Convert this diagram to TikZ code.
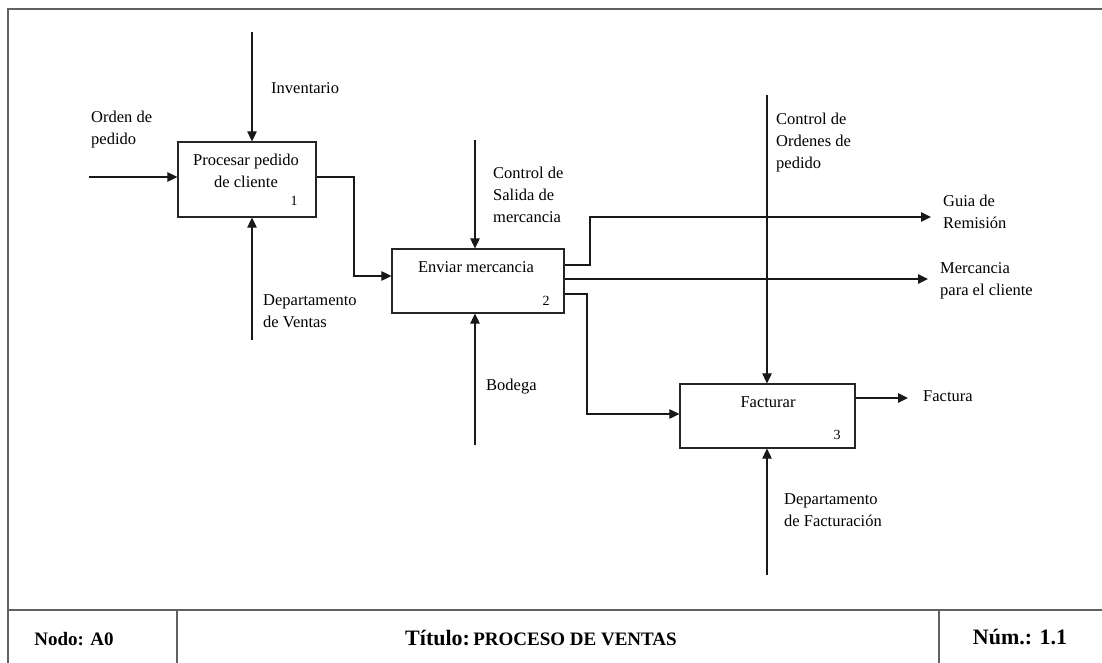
\documentclass[tikz,border=0pt]{standalone}
\usepackage{fontspec}
\setmainfont{Liberation Serif}
\usetikzlibrary{arrows.meta}
\begin{document}
\begin{tikzpicture}[x=1pt,y=-1pt,
  frame/.style={draw=black!62,line width=1.8pt},
  actbox/.style={draw=black!85,line width=1.2pt,rectangle,inner sep=0pt},
  arr/.style={draw=black!90,line width=1.1pt,-{Triangle[length=10pt,width=9.5pt]}},
  lbl/.style={font=\fontsize{16.5}{22}\selectfont,align=left,anchor=west,inner sep=0pt},
  btxt/.style={font=\fontsize{16.5}{22}\selectfont,align=center,inner sep=0pt},
  num/.style={font=\fontsize{14}{16}\selectfont,inner sep=0pt},
  foot/.style={font=\bfseries,inner sep=0pt}]
\useasboundingbox (0,0) rectangle (1102,663);
\fill[white] (0,0) rectangle (1102,663);

% outer frame and title block
\draw[frame] (8,663) -- (8,9) -- (1102,9);
\draw[frame] (8,610) -- (1102,610);
\draw[frame] (177,610) -- (177,663);
\draw[frame] (939,610) -- (939,663);
\node[foot,font=\bfseries\fontsize{19}{22}\selectfont] (nodo) at (74,639) {Nodo: A0};
\node[foot] (titulo) at (541,638) {{\fontsize{22}{24}\selectfont Título:} {\fontsize{19}{22}\selectfont PROCESO DE VENTAS}};
\node[foot,font=\bfseries\fontsize{22}{24}\selectfont] (num) at (1020,637) {Núm.: 1.1};

% activity boxes
\node[actbox,minimum width=138pt,minimum height=75pt] (b1) at (247,179.5) {};
\node[actbox,minimum width=172pt,minimum height=64pt] (b2) at (478,281) {};
\node[actbox,minimum width=175pt,minimum height=64pt] (b3) at (767.5,416) {};

\node[btxt] (t1) at (246,171) {Procesar pedido\\de cliente};
\node[btxt] (t2) at (476,267) {Enviar mercancia};
\node[btxt] (t3) at (768,402) {Facturar};
\node[num] (n1) at (294,201) {1};
\node[num] (n2) at (546,301) {2};
\node[num] (n3) at (837,435) {3};

% free ends of the arrows
\coordinate (orden) at (89,177);
\coordinate (inv) at (252,32);
\coordinate (ventas) at (252,340);
\coordinate (salida) at (475,140);
\coordinate (bodega) at (475,445);
\coordinate (ordenes) at (767,95);
\coordinate (facturacion) at (767,575);
\coordinate (guia) at (931,217);
\coordinate (merc) at (928,279);
\coordinate (fact) at (908,398);

% box 1
\draw[arr] (orden) -- (orden -| b1.west);
\draw[arr] (inv) -- (inv |- b1.north);
\draw[arr] (ventas) -- (ventas |- b1.south);
\draw[arr] (b1.east |- 0,177) -- (354,177) |- (b2.west |- 0,276);

% box 2
\draw[arr] (salida) -- (salida |- b2.north);
\draw[arr] (bodega) -- (bodega |- b2.south);
\draw[arr] (b2.east |- 0,265) -- (590,265) |- (guia);
\draw[arr] (b2.east |- 0,279) -- (merc);
\draw[arr] (b2.east |- 0,294) -- (587,294) |- (b3.west |- 0,414);

% box 3
\draw[arr] (ordenes) -- (ordenes |- b3.north);
\draw[arr] (facturacion) -- (facturacion |- b3.south);
\draw[arr] (b3.east |- fact) -- (fact);

% arrow labels
\node[lbl] (l-inv) at (271,88) {Inventario};
\node[lbl] (l-orden) at (91,129.5) {Orden de\\pedido};
\node[lbl] (l-ventas) at (263,311) {Departamento\\de Ventas};
\node[lbl] (l-salida) at (493,195) {Control de\\Salida de\\mercancia};
\node[lbl] (l-bodega) at (486,387) {Bodega};
\node[lbl] (l-ordenes) at (776,143) {Control de\\Ordenes de\\pedido};
\node[lbl] (l-guia) at (943,211.5) {Guia de\\Remisión};
\node[lbl] (l-merc) at (940,280.5) {Mercancia\\para el cliente};
\node[lbl] (l-fact) at (923,396) {Factura};
\node[lbl] (l-facturacion) at (784,510) {Departamento\\de Facturación};
\end{tikzpicture}
\end{document}
